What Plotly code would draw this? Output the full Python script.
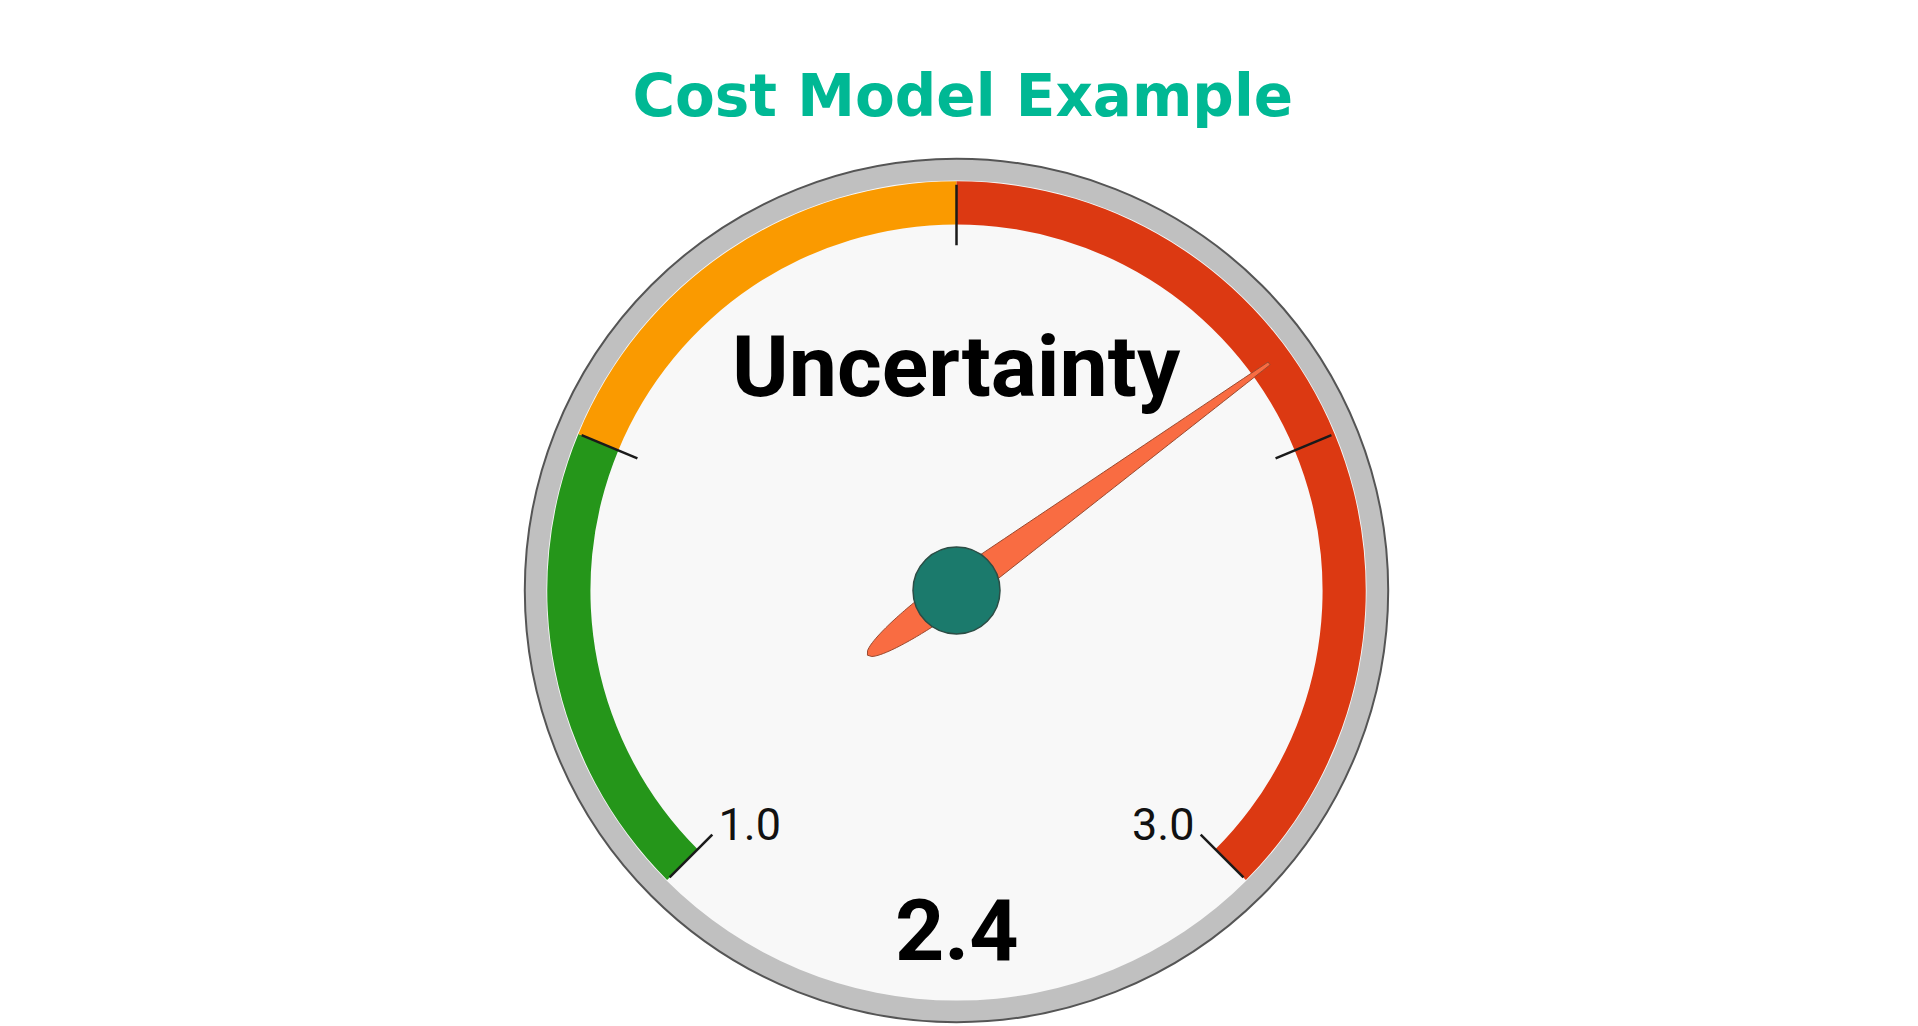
import numpy as np
import plotly.graph_objects as go

# ---------------- data ----------------
title_text = "Cost Model Example"
gauge_label = "Uncertainty"
gauge_min = 1.0
gauge_max = 3.0
gauge_value = 2.4
band_from = [1.0, 1.5, 2.0]
band_to = [1.5, 2.0, 3.0]
band_colors = ["#25961A", "#FA9A00", "#DC3912"]
tick_values = [1.0, 1.5, 2.0, 2.5, 3.0]
tick_labels = ["1.0", "", "", "", "3.0"]

SWEEP = 270.0


def to_theta(v):
    return (np.asarray(v, dtype=float) - gauge_min) / (gauge_max - gauge_min) * SWEEP


fig = go.Figure()

# face
fig.add_trace(go.Barpolar(r=[0.95], base=[0], theta=[180], width=[360],
                          marker=dict(color="#F8F8F8", line=dict(width=0)),
                          hoverinfo="skip", showlegend=False))

# colored bands
for f, t, c in zip(band_from, band_to, band_colors):
    th0, th1 = to_theta(f), to_theta(t)
    fig.add_trace(go.Barpolar(r=[0.10], base=[0.848], theta=[(th0 + th1) / 2],
                              width=[th1 - th0],
                              marker=dict(color=c, line=dict(width=0)),
                              hoverinfo="skip", showlegend=False))

# ticks
for v in tick_values:
    th = float(to_theta(v))
    fig.add_trace(go.Scatterpolar(r=[0.80, 0.94], theta=[th, th], mode="lines",
                                  line=dict(color="#1a1a1a", width=2.5),
                                  hoverinfo="skip", showlegend=False))

# needle (tapered shape built around the value angle)
tail, tip, hw = 0.255, 0.895, 0.038
s_tail = np.linspace(-tail, 0, 40)
w_tail = hw * np.sqrt(np.clip(1 - (s_tail / tail) ** 2, 0, 1))
s_head = np.linspace(0, tip, 40)[1:]
w_head = hw * (1 - s_head / tip) + 0.004 * (s_head / tip)
s = np.concatenate([s_tail, s_head])
w = np.concatenate([w_tail, w_head])
s_all = np.concatenate([s, s[::-1]])
w_all = np.concatenate([w, -w[::-1]])
r_n = np.sqrt(s_all ** 2 + w_all ** 2)
th_n = float(to_theta(gauge_value)) + np.degrees(np.arctan2(w_all, s_all))
fig.add_trace(go.Scatterpolar(r=r_n, theta=th_n, mode="lines", fill="toself",
                              fillcolor="#F96C42",
                              line=dict(color="#9a4a30", width=1),
                              hoverinfo="skip", showlegend=False))

# hub
fig.add_trace(go.Scatterpolar(r=[0], theta=[0], mode="markers",
                              marker=dict(size=87, color="#1B7A6C",
                                          line=dict(color="#2c4d45", width=1.5)),
                              hoverinfo="skip", showlegend=False))

# tick labels
label_r = 0.73
for v, lab in zip(tick_values, tick_labels):
    if not lab:
        continue
    th = float(to_theta(v))
    th_l = th + (-4 if v == gauge_min else 4)
    fig.add_trace(go.Scatterpolar(r=[label_r], theta=[th_l], mode="text", text=[lab],
                                  textfont=dict(family="Roboto", size=45, color="#111111"),
                                  textposition="middle center",
                                  hoverinfo="skip", showlegend=False))

cx, cy, R = 948.5, 582.5, 431.7
W, H = 1918, 1026

fig.update_layout(
    width=W, height=H,
    margin=dict(l=0, r=0, t=0, b=0),
    paper_bgcolor="white",
    plot_bgcolor="white",
    title=dict(text="<b>" + title_text + "</b>", x=0.4978, xanchor="center",
               y=1 - 88 / H, yanchor="middle",
               font=dict(family="DejaVu Sans", size=58, color="#00B894")),
    polar=dict(
        domain=dict(x=[(cx - R) / W, (cx + R) / W], y=[(H - cy - R) / H, (H - cy + R) / H]),
        bgcolor="#C0C0C0",
        hole=0,
        barmode="overlay",
        radialaxis=dict(range=[0, 1], visible=False, showgrid=False),
        angularaxis=dict(rotation=225, direction="clockwise", showgrid=False,
                         showticklabels=False, ticks="", showline=True,
                         linecolor="#555555", linewidth=2),
    ),
    annotations=[
        dict(text="<b>" + gauge_label + "</b>", x=cx / W, y=(H - 359) / H,
             xref="paper", yref="paper", showarrow=False, xanchor="center", yanchor="middle",
             font=dict(family="Roboto", size=86, color="#000000")),
        dict(text="<b>" + f"{gauge_value:.1f}" + "</b>", x=cx / W, y=(H - 922) / H,
             xref="paper", yref="paper", showarrow=False, xanchor="center", yanchor="middle",
             font=dict(family="Roboto", size=86, color="#000000")),
    ],
)

fig.write_html("out.html")
